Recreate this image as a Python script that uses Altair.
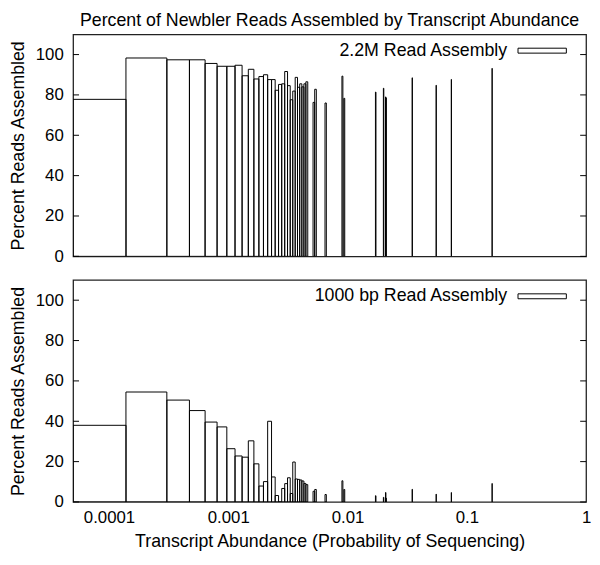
import altair as alt
import pandas as pd

# ---- data ----
# bin centres (transcript abundance); bins are of equal linear width
abundance = [0.0000556, 0.000222, 0.000389, 0.000556, 0.000722, 0.000889,
             0.001056, 0.001222, 0.001389, 0.001556, 0.001722, 0.001889,
             0.002056, 0.002222, 0.002389, 0.002556, 0.002722, 0.002889,
             0.003056, 0.003222, 0.003389, 0.003556, 0.003722, 0.003889,
             0.004056, 0.004222, 0.004389, 0.004556,
             0.005222, 0.005389, 0.006556, 0.009056, 0.009389, 0.017222,
             0.020056, 0.020889, 0.021056, 0.034889, 0.055389, 0.074222,
             0.163056]
BIN_WIDTH = 0.0001667

pct_22m = [77.8, 98.3, 97.4, 97.4, 95.6, 94.2, 94.2, 94.7, 89.5, 92.7,
           87.9, 89.1, 90.0, 87.6, 87.6, 82.3, 85.2, 85.5, 91.6, 84.6,
           77.6, 81.9, 88.7, 83.8, 85.5, 84.0, 85.5, 86.5,
           76.3, 82.8, 76.0, 89.3, 78.3, 81.4, 83.3, 79.0, 78.5, 88.5,
           84.8, 87.7, 93.2]

pct_1000bp = [38.0, 54.5, 50.5, 45.3, 39.6, 37.2, 26.4, 22.8, 22.2, 30.3,
              18.9, 7.9, 10.1, 40.0, 12.4, 3.2, 0.0, 6.7, 9.1, 12.0,
              4.2, 19.8, 11.4, 11.2, 10.9, 10.4, 9.2, 8.6,
              5.3, 6.2, 3.7, 10.5, 6.2, 3.1, 2.3, 4.7, 1.9, 6.3,
              3.9, 4.7, 9.2]

series_labels = ["2.2M Read Assembly", "1000 bp Read Assembly"]
x_ticks = [0.0001, 0.001, 0.01, 0.1, 1]
y_ticks = [0, 20, 40, 60, 80, 100]
X_DOMAIN = [0.00005, 1]
Y_DOMAIN = [0, 110]

TITLE = "Percent of Newbler Reads Assembled by Transcript Abundance"
X_TITLE = "Transcript Abundance (Probability of Sequencing)"
Y_TITLE = "Percent Reads Assembled"

FONT = "Liberation Sans"
FS = 18
LFS = 17
PW, PH = 520, 225

xs = alt.Scale(type="log", domain=X_DOMAIN)
ys = alt.Scale(domain=Y_DOMAIN)


def panel(pcts, label, show_x):
    df = pd.DataFrame({"abundance": abundance, "pct": pcts})
    df["lo"] = (df["abundance"] - BIN_WIDTH / 2).clip(lower=X_DOMAIN[0])
    df["hi"] = df["abundance"] + BIN_WIDTH / 2

    if show_x:
        xaxis = alt.Axis(values=x_ticks, format="~g", ticks=False, domain=False,
                         grid=False, labelFlush=False, labelFontSize=LFS,
                         labelColor="black", labelPadding=8, title=X_TITLE,
                         titleFontSize=FS, titleFontWeight="normal",
                         titleColor="black", titlePadding=7)
    else:
        xaxis = None
    yaxis = alt.Axis(values=y_ticks, ticks=False, domain=False, grid=False,
                     labelFontSize=LFS, labelColor="black", labelPadding=10,
                     title=Y_TITLE, titleFontSize=FS, titleFontWeight="normal",
                     titleColor="black", titlePadding=8)

    bars = alt.Chart(df).mark_rect(
        fill="white", fillOpacity=0, stroke="black", strokeWidth=1, clip=True
    ).encode(
        x=alt.X("lo:Q", scale=xs, axis=xaxis),
        x2="hi:Q",
        y=alt.Y("pct:Q", scale=ys, axis=yaxis),
        y2=alt.datum(0),
    )

    tdf = pd.DataFrame({"v": y_ticks})
    tick_l = alt.Chart(tdf).mark_rule(color="black", strokeWidth=1).encode(
        y=alt.Y("v:Q", scale=ys), x=alt.value(0), x2=alt.value(6))
    tick_r = alt.Chart(tdf).mark_rule(color="black", strokeWidth=1).encode(
        y=alt.Y("v:Q", scale=ys), x=alt.value(PW - 6), x2=alt.value(PW))

    ldf = pd.DataFrame({"t": [label]})
    ltext = alt.Chart(ldf).mark_text(
        align="right", baseline="middle", fontSize=FS, font=FONT, color="black"
    ).encode(text="t:N", x=alt.value(440), y=alt.value(16.5))
    lbox = alt.Chart(ldf).mark_rect(
        fill="white", stroke="black", strokeWidth=1
    ).encode(x=alt.value(451), x2=alt.value(500),
             y=alt.value(14), y2=alt.value(19))

    return alt.layer(bars, tick_l, tick_r, lbox, ltext).properties(
        width=PW, height=PH)


top = panel(pct_22m, series_labels[0], False).properties(
    title=alt.TitleParams(TITLE, fontSize=FS, fontWeight="normal",
                          anchor="middle", frame="group", color="black",
                          font=FONT, offset=4))
bottom = panel(pct_1000bp, series_labels[1], True)

chart = alt.vconcat(top, bottom, spacing=14).properties(
    padding={"left": 0, "top": 0, "right": 0, "bottom": 0}
).configure(font=FONT).configure_view(stroke="#222", strokeWidth=1.3)

chart.save("out.html", embed_options={"renderer": "svg", "actions": False})
